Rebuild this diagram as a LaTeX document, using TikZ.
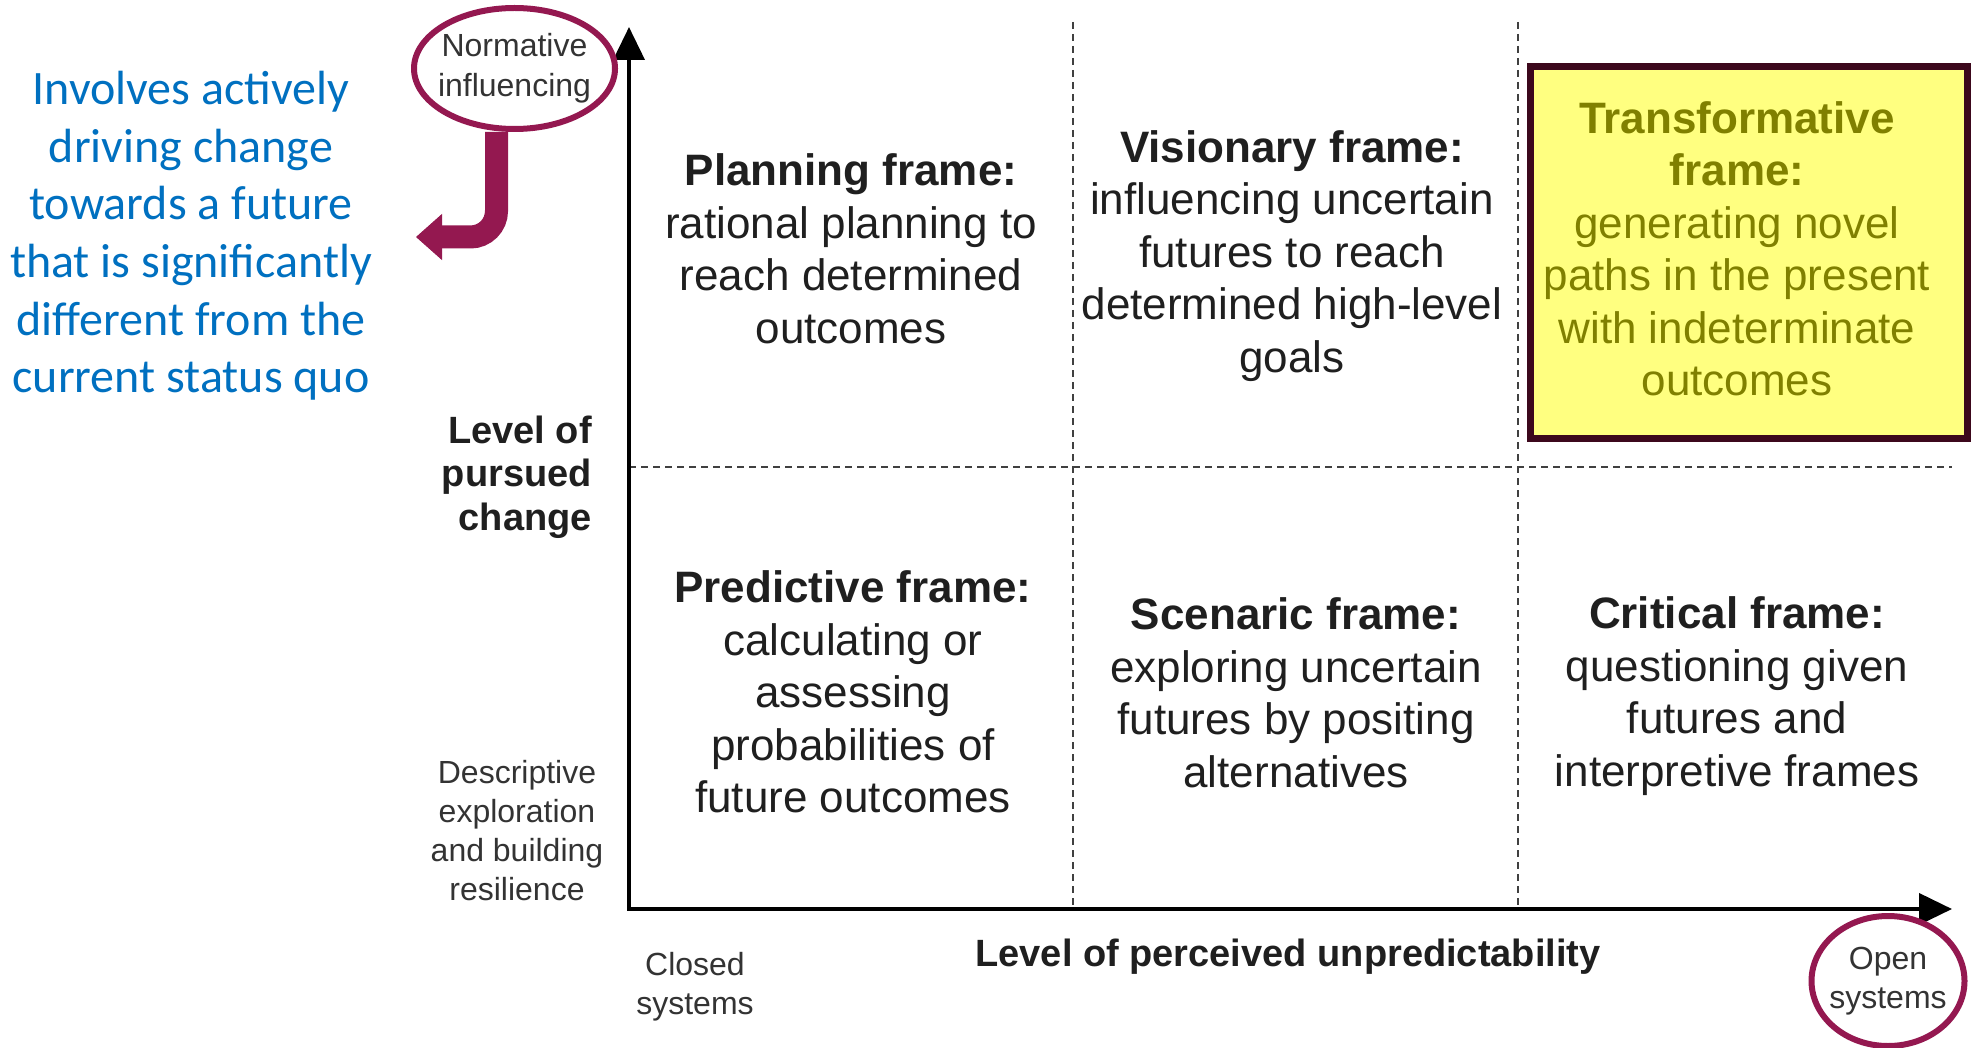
\documentclass[tikz,border=0pt]{standalone}
\usepackage{fontspec}
\setmainfont{Liberation Sans}
\newfontfamily\notefont{Carlito}
\usetikzlibrary{arrows.meta, positioning, shapes.geometric}
\definecolor{framemaroon}{RGB}{148,24,80}
\definecolor{boxborder}{RGB}{60,8,28}
\definecolor{boxyellow}{RGB}{255,255,128}
\definecolor{boxolive}{RGB}{128,128,0}
\definecolor{noteblue}{RGB}{0,112,192}

\begin{document}
\begin{tikzpicture}[
    x=1pt, y=-1pt,
    cell/.style={
        align=center,
        inner sep=0pt,
        text=black!88,
        font=\fontsize{44}{52.5}\selectfont
    },
    axislabel/.style={
        align=center,
        inner sep=0pt,
        text=black!88,
        font=\bfseries\fontsize{38}{43.5}\selectfont
    },
    endlabel/.style={
        align=center,
        inner sep=0pt,
        text=black!80,
        font=\fontsize{32}{39}\selectfont
    },
    circled/.style={
        ellipse,
        draw=framemaroon,
        line width=6pt,
        inner ysep=0pt,
        inner xsep=-6pt
    },
    hilite/.style={
        rectangle,
        draw=boxborder,
        fill=boxyellow,
        line width=7pt
    },
    axis/.style={
        line width=4pt,
        {Triangle[length=33pt, width=31pt]}-{Triangle[length=33pt, width=31pt]}
    },
    grid/.style={
        line width=2pt,
        black!75,
        dash pattern=on 7pt off 5pt
    },
    bigarrow/.style={
        line width=23pt,
        framemaroon,
        rounded corners=26pt,
        -{Triangle[length=26pt, width=46pt, line width=1pt]}
    }
]
\useasboundingbox (0,0) rectangle (1972,1048);

% grid of the six frames
\draw[grid] (629,467) -- (1952,467);
\draw[grid] (1073,22) -- (1073,909);
\draw[grid] (1518,22) -- (1518,909);

\node[hilite, minimum width=437pt, minimum height=371pt] (transbox) at (1748.5,252.5) {};

% axes
\coordinate (origin) at (629,909);
\coordinate (ytip) at (629,27);
\coordinate (xtip) at (1952,909);
\draw[axis] (ytip) -- (origin) -- (xtip);

% frames
\node[cell] (planning) at (851,249) {\textbf{Planning frame:}\\rational planning to\\reach determined\\outcomes};
\node[cell] (visionary) at (1292,256) {\textbf{Visionary frame:}\\influencing uncertain\\futures to reach\\determined high-level\\goals};
\node[cell, text=boxolive] (transform) at (1737,249) {\textbf{Transformative}\\\textbf{frame:}\\generating novel\\paths in the present\\with indeterminate\\outcomes};
\node[cell] (predictive) at (853,692) {\textbf{Predictive frame:}\\calculating or\\assessing\\probabilities of\\future outcomes};
\node[cell] (scenaric) at (1296,693) {\textbf{Scenaric frame:}\\exploring uncertain\\futures by positing\\alternatives};
\node[cell] (critical) at (1737,696) {\textbf{Critical frame:}\\questioning given\\futures and\\interpretive frames};

% axis labels
\node[axislabel, align=right, anchor=east] (ylabel) at (592,477) {Level of\\pursued\\change};
\node[endlabel] (ylow) at (517,831) {Descriptive\\exploration\\and building\\resilience};
\node[endlabel, circled, minimum width=201pt, minimum height=121pt, font=\fontsize{32}{40}\selectfont] (yhigh) at (514.5,68.5) {Normative\\influencing};
\node[axislabel] (xlabel) at (1288,957) {Level of perceived unpredictability};
\node[endlabel] (xlow) at (695,987) {Closed\\systems};
\node[endlabel, circled, minimum width=153pt, minimum height=130pt] (xhigh) at (1888,981) {Open\\systems};

% note on the left
\node[align=center, inner sep=0pt, text=noteblue, font=\notefont\fontsize{48}{57.6}\selectfont] (note) at (191,236) {Involves actively\\driving change\\towards a future\\that is significantly\\different from the\\current status quo};

\coordinate (notetip) at (416,237);
\draw[bigarrow] ([xshift=-18pt]yhigh.south) |- (notetip);

\end{tikzpicture}
\end{document}
